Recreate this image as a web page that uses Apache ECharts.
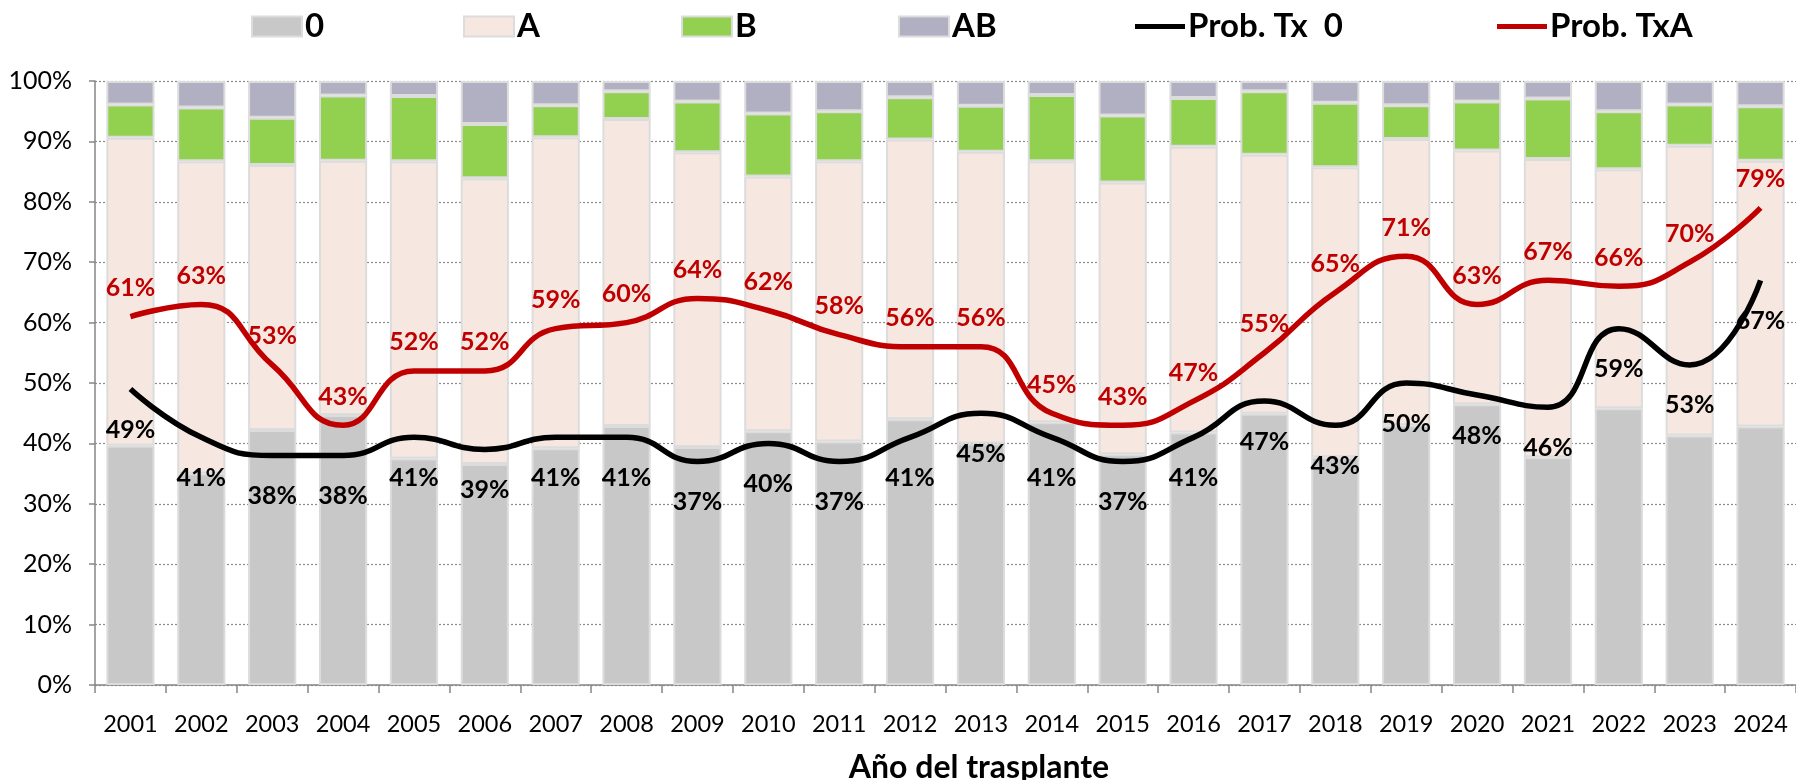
<!DOCTYPE html>
<html>
<head>
<meta charset="utf-8">
<script src="https://cdn.jsdelivr.net/npm/echarts@6/dist/echarts.min.js"></script>
<style>
html,body{margin:0;padding:0;background:#fff;}
#c{width:1796px;height:780px;}
</style>
</head>
<body>
<div id="c"></div>
<script>
const years = ['2001','2002','2003','2004','2005','2006','2007','2008','2009','2010','2011','2012','2013','2014','2015','2016','2017','2018','2019','2020','2021','2022','2023','2024'];
const grp0 = [39.6,35.0,42.2,44.7,37.5,36.6,39.2,42.9,39.4,42.0,40.3,44.0,40.0,43.5,38.2,41.8,44.9,37.7,43.0,46.5,37.7,45.8,41.3,42.8];
const grpA = [51.0,51.7,43.9,42.1,49.2,47.3,51.5,50.8,48.8,42.2,46.4,46.3,48.3,43.2,45.0,47.3,42.9,48.0,47.4,42.0,49.4,39.6,48.0,44.0];
const grpB = [5.5,8.9,7.8,10.8,10.8,9.0,5.3,4.6,8.4,10.4,8.3,7.0,7.6,11.0,11.1,8.1,10.5,10.7,5.6,8.1,10.0,9.6,6.8,9.0];
const grpAB = [3.9,4.4,6.1,2.4,2.5,7.1,4.0,1.7,3.4,5.4,5.0,2.7,4.1,2.3,5.7,2.8,1.7,3.6,4.0,3.4,2.9,5.0,3.9,4.2];
const probTx0 = [49,41,38,38,41,39,41,41,37,40,37,41,45,41,37,41,47,43,50,48,46,59,53,67];
const probTxA = [61,63,53,43,52,52,59,60,64,62,58,56,56,45,43,47,55,65,71,63,67,66,70,79];
const yTicks = [0,10,20,30,40,50,60,70,80,90,100];

const FONT = 'Lato';
const chart = echarts.init(document.getElementById('c'));

function barSeries(name, data, color) {
  return {
    name: name, type: 'bar', stack: 'total', data: data, barWidth: '68%',
    itemStyle: { color: color, borderColor: '#dcdcdc', borderWidth: 2 },
    emphasis: { disabled: true }, z: 2
  };
}
function lineSeries(name, data, color, pos, dist) {
  return {
    name: name, type: 'line', data: data, smooth: 0.5,
    symbol: 'circle', symbolSize: 0.1, showSymbol: true,
    lineStyle: { color: color, width: 5.5 },
    itemStyle: { color: color },
    label: { show: true, position: pos, distance: dist, formatter: '{c}%',
             color: color, fontFamily: FONT, fontWeight: 'bold', fontSize: 25 },
    labelLayout: { hideOverlap: false },
    emphasis: { disabled: true }, z: 5
  };
}
function legendItem(name, left, isLine, color) {
  return {
    data: [{ name: name, icon: 'rect' }], left: left, top: 5,
    itemWidth: 50, itemHeight: isLine ? 5 : 20, itemGap: 0,
    selectedMode: false,
    textStyle: { fontFamily: FONT, fontWeight: 'bold', fontSize: 33, color: '#000', padding: [0,0,0,-2] },
    itemStyle: isLine ? { color: color, borderWidth: 0 } : { borderColor: '#dcdcdc', borderWidth: 2 }
  };
}

chart.setOption({
  animation: false,
  backgroundColor: '#fff',
  grid: { left: 95, right: 0, top: 81, bottom: 95, containLabel: false },
  legend: [
    legendItem('0', 246, false),
    legendItem('A', 458, false),
    legendItem('B', 676, false),
    legendItem('AB', 893, false),
    legendItem('Prob. Tx  0', 1130, true, '#000000'),
    legendItem('Prob. TxA', 1492, true, '#c00000')
  ],
  xAxis: {
    type: 'category', data: years, boundaryGap: true,
    axisLine: { lineStyle: { color: '#868686', width: 1.5 } },
    axisTick: { show: true, interval: 0, length: 8, alignWithLabel: false, lineStyle: { color: '#868686', width: 1.5 } },
    axisLabel: { interval: 0, hideOverlap: false, color: '#000', fontFamily: FONT, fontSize: 23.5, margin: 27 },
    splitLine: { show: false }
  },
  yAxis: {
    type: 'value', min: yTicks[0], max: yTicks[yTicks.length-1], interval: 10,
    axisLine: { show: true, lineStyle: { color: '#868686', width: 1.5 } },
    axisTick: { show: true, length: 6, lineStyle: { color: '#868686', width: 1.5 } },
    axisLabel: { color: '#000', fontFamily: FONT, fontSize: 25, margin: 23, formatter: '{value}%' },
    splitLine: { show: true, lineStyle: { color: '#8c8c8c', type: [2, 2], width: 1.2 } }
  },
  graphic: [{
    type: 'text', x: 979, y: 768,
    style: { text: 'Año del trasplante', fontFamily: FONT, fontWeight: 'bold', fontSize: 32,
             fill: '#000', textAlign: 'center', textVerticalAlign: 'middle' }
  }],
  series: [
    barSeries('0', grp0, '#c8c8c8'),
    barSeries('A', grpA, '#f6e8e0'),
    barSeries('B', grpB, '#92d050'),
    barSeries('AB', grpAB, '#b1afc2'),
    lineSeries('Prob. Tx  0', probTx0, '#000000', 'bottom', 28),
    lineSeries('Prob. TxA', probTxA, '#c00000', 'top', 16)
  ]
});
</script>
</body>
</html>
